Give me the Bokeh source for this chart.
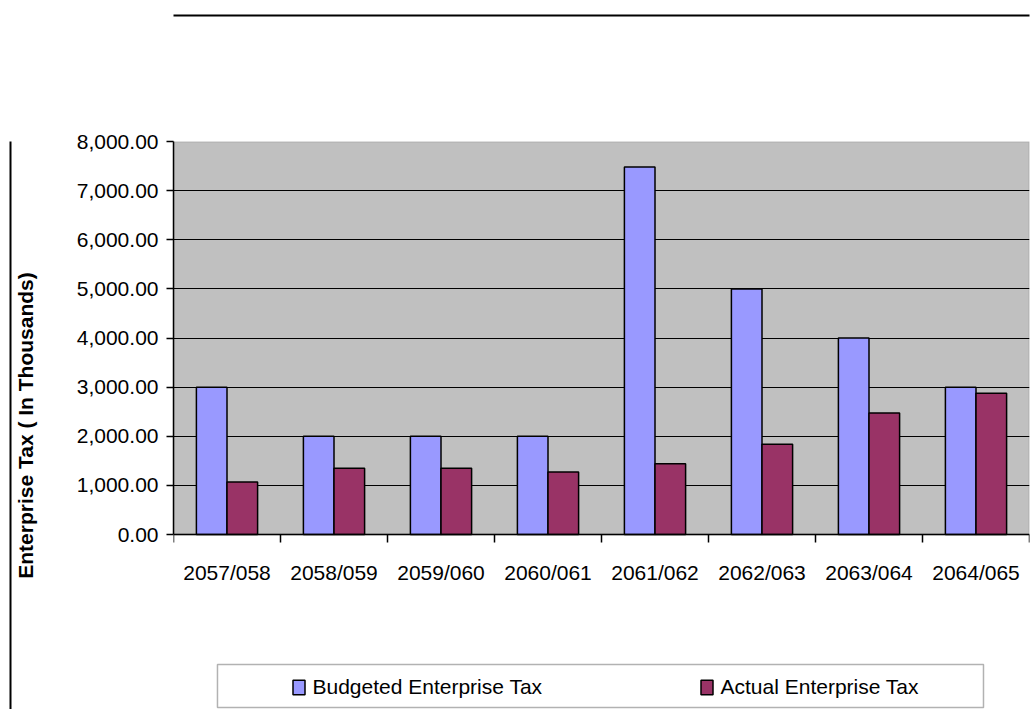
from bokeh.plotting import figure
from bokeh.models import (Range1d, LinearAxis, FixedTicker, BoxAnnotation,
                          NumeralTickFormatter, Legend, LegendItem, ColumnDataSource)
from bokeh.transform import dodge
from bokeh.embed import file_html
from bokeh.resources import INLINE

years = ["2057/058", "2058/059", "2059/060", "2060/061",
         "2061/062", "2062/063", "2063/064", "2064/065"]
budgeted = [3000, 2000, 2000, 2000, 7480, 5000, 4000, 3000]
actual = [1070, 1350, 1350, 1270, 1440, 1835, 2475, 2875]
y_ticks = [0, 1000, 2000, 3000, 4000, 5000, 6000, 7000, 8000]

FONT = "Liberation Sans"

n = len(years)
centers = [i + 0.5 for i in range(n)]
bounds = list(range(n + 1))
src = ColumnDataSource(dict(x=centers, year=years, budgeted=budgeted, actual=actual))

# the frame also holds the axis-label / legend strip below the value 0
p = figure(width=1033, height=709, x_range=Range1d(0, n), y_range=Range1d(-3562, 8000),
           x_axis_location=None, y_axis_location=None,
           output_backend="svg", toolbar_location=None)
p.min_border_left = 173
p.min_border_right = 4
p.min_border_top = 141
p.min_border_bottom = 0
p.background_fill_color = "white"
p.border_fill_color = "white"
p.outline_line_color = None

# grey plot area (0 .. 8000)
plot_area = BoxAnnotation(bottom=0, top=8000, fill_color="#C0C0C0", fill_alpha=1,
                          line_color="#808080", line_width=2, level="image")
p.add_layout(plot_area)


def plain_axis(tick, tick_out, line_color, line_width=2):
    ax = LinearAxis(ticker=FixedTicker(ticks=[tick]))
    ax.major_label_text_font_size = "0px"
    ax.major_label_standoff = 0
    ax.major_tick_out = tick_out
    ax.major_tick_in = 0
    ax.major_tick_line_color = None
    ax.minor_tick_out = 0
    ax.minor_tick_in = 0
    ax.axis_line_color = line_color
    ax.axis_line_width = line_width
    return ax


# y axis
yax = LinearAxis(ticker=FixedTicker(ticks=y_ticks),
                 formatter=NumeralTickFormatter(format="0,0.00"), bounds=(0, 8000))
yax.axis_label = "Enterprise Tax ( In Thousands)"
yax.axis_label_text_font = FONT
yax.axis_label_text_font_size = "21px"
yax.axis_label_text_font_style = "bold"
yax.axis_label_text_color = "black"
yax.axis_label_standoff = 37
yax.major_label_text_font = FONT
yax.major_label_text_font_size = "21px"
yax.major_label_text_color = "black"
yax.major_label_standoff = 8
yax.major_tick_out = 7
yax.major_tick_in = 0
yax.minor_tick_out = 0
yax.minor_tick_in = 0
yax.axis_line_color = "black"
yax.axis_line_width = 1.5
yax.major_tick_line_width = 1.5
p.add_layout(yax, "left")

# outer chart-area edges (left, top)
p.add_layout(plain_axis(4000, 0, "black"), "left")
p.add_layout(plain_axis(4, 126, None), "above")
p.add_layout(plain_axis(4, 0, "black"), "above")

# x axis at value 0: boundary ticks
bax = LinearAxis(ticker=FixedTicker(ticks=bounds), fixed_location=0)
bax.major_label_text_font_size = "0px"
bax.major_label_standoff = 0
bax.major_tick_out = 8
bax.major_tick_in = 0
bax.minor_tick_out = 0
bax.minor_tick_in = 0
bax.axis_line_color = "black"
bax.axis_line_width = 1.5
bax.major_tick_line_width = 1.5
p.add_layout(bax, "below")

# x axis at value 0: category labels at centres
xax = LinearAxis(ticker=FixedTicker(ticks=centers), fixed_location=0)
xax.major_label_overrides = {c: y for c, y in zip(centers, years)}
xax.major_tick_out = 0
xax.major_tick_in = 0
xax.minor_tick_out = 0
xax.minor_tick_in = 0
xax.axis_line_color = None
xax.major_label_text_font = FONT
xax.major_label_text_font_size = "21px"
xax.major_label_text_color = "black"
xax.major_label_standoff = 26
p.add_layout(xax, "below")

# grid
p.ygrid.ticker = FixedTicker(ticks=y_ticks[1:-1])
p.ygrid.grid_line_color = "black"
p.ygrid.grid_line_width = 1.2
p.xgrid.grid_line_color = None

bw = 0.286
r1 = p.vbar(x=dodge("x", -0.143), top="budgeted", width=bw, source=src,
            fill_color="#9999FF", line_color="black", line_width=1.5)
r2 = p.vbar(x=dodge("x", 0.143), top="actual", width=bw, source=src,
            fill_color="#993366", line_color="black", line_width=1.5)

# legend box
lbox = BoxAnnotation(left=0.411, right=7.57, top=-2646, bottom=-3520,
                     fill_color="white", fill_alpha=1, line_color="black", line_width=1.5)
p.add_layout(lbox)

legend = Legend(items=[LegendItem(label="Budgeted Enterprise Tax", renderers=[r1]),
                       LegendItem(label="Actual Enterprise Tax", renderers=[r2])],
                location=(117.5, 10), orientation="horizontal",
                padding=0, margin=0, spacing=6, label_width=380,
                glyph_width=15, glyph_height=18, label_standoff=7, label_height=20,
                label_text_font=FONT, label_text_font_size="21px", label_text_color="black",
                border_line_alpha=0, background_fill_alpha=0)
p.add_layout(legend, "center")

open("out.html", "w").write(file_html(p, INLINE))
